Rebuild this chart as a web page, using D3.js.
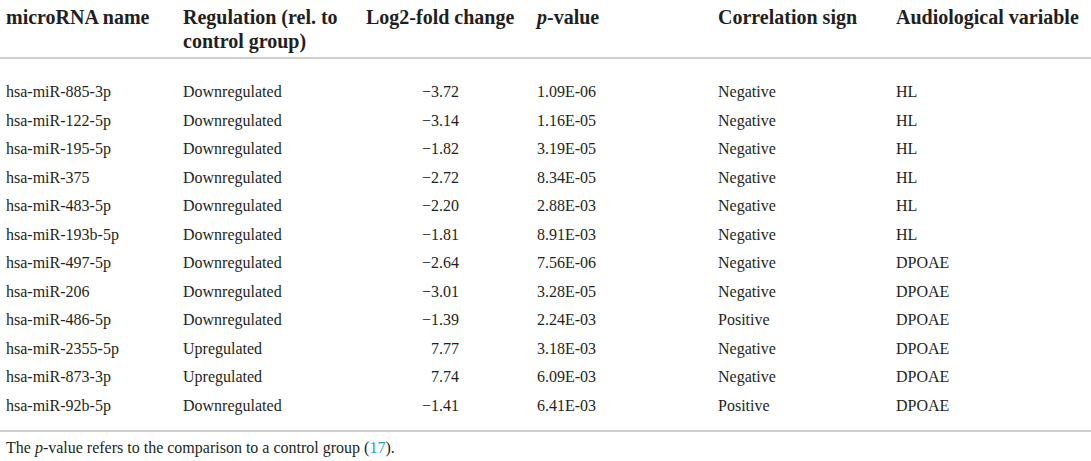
<!DOCTYPE html>
<html>
<head>
<meta charset="utf-8">
<script src="https://cdn.jsdelivr.net/npm/d3@7"></script>
<style>
  html, body { margin: 0; padding: 0; background: #fff; }
  svg { display: block; font-family: "Liberation Serif", "Times New Roman", serif; }
</style>
</head>
<body>
<div id="chart"></div>
<script>
const names = ["hsa-miR-885-3p","hsa-miR-122-5p","hsa-miR-195-5p","hsa-miR-375","hsa-miR-483-5p","hsa-miR-193b-5p","hsa-miR-497-5p","hsa-miR-206","hsa-miR-486-5p","hsa-miR-2355-5p","hsa-miR-873-3p","hsa-miR-92b-5p"];
const regulation = ["Downregulated","Downregulated","Downregulated","Downregulated","Downregulated","Downregulated","Downregulated","Downregulated","Downregulated","Upregulated","Upregulated","Downregulated"];
const log2fc = [-3.72,-3.14,-1.82,-2.72,-2.20,-1.81,-2.64,-3.01,-1.39,7.77,7.74,-1.41];
const pvalues = [1.09e-6,1.16e-5,3.19e-5,8.34e-5,2.88e-3,8.91e-3,7.56e-6,3.28e-5,2.24e-3,3.18e-3,6.09e-3,6.41e-3];
const correlation = ["Negative","Negative","Negative","Negative","Negative","Negative","Negative","Negative","Positive","Negative","Negative","Positive"];
const variable = ["HL","HL","HL","HL","HL","HL","DPOAE","DPOAE","DPOAE","DPOAE","DPOAE","DPOAE"];
const headers = ["microRNA name","Regulation (rel. to|control group)","Log2-fold change","p-value","Correlation sign","Audiological variable"];

const W = 1091, H = 461;
const svg = d3.select("#chart").append("svg").attr("width", W).attr("height", H);
const ink = "#231f20";

const colX = [6, 183, 366, 537, 718, 896];
const log2Right = 459;

const y = d3.scaleBand().domain(d3.range(names.length)).range([78, 420]).paddingInner(0);

// header
const hdr = svg.append("g").attr("font-weight", "bold").attr("font-size", 20).attr("fill", ink);
headers.forEach((h, i) => {
  const lines = h.split("|");
  lines.forEach((ln, j) => {
    const t = hdr.append("text").attr("x", colX[i]).attr("y", 24 + j * 24);
    if (ln === "p-value") {
      t.append("tspan").attr("font-style", "italic").text("p");
      t.append("tspan").text("-value");
    } else t.text(ln);
  });
});

// rules
svg.append("rect").attr("x", 0).attr("y", 57).attr("width", W).attr("height", 2).attr("fill", "#cfcfcf");
svg.append("rect").attr("x", 0).attr("y", 430).attr("width", W).attr("height", 2).attr("fill", "#cfcfcf");

const fmtFC = d3.format(".2f");
const fmtP = v => {
  const [m, e] = v.toExponential(2).split("e");
  const n = Math.abs(+e);
  return m + "E" + (+e < 0 ? "-" : "+") + (n < 10 ? "0" + n : n);
};

const rows = svg.append("g").attr("font-size", 16).attr("fill", ink)
  .selectAll("g").data(names.map((d, i) => i)).join("g")
  .attr("transform", i => `translate(0,${y(i) + y.bandwidth() / 2 + 5})`);

rows.append("text").attr("x", colX[0]).text(i => names[i]);
rows.append("text").attr("x", colX[1]).text(i => regulation[i]);
rows.append("text").attr("x", log2Right).attr("text-anchor", "end").text(i => fmtFC(log2fc[i]));
rows.append("text").attr("x", colX[3]).text(i => fmtP(pvalues[i]));
rows.append("text").attr("x", colX[4]).text(i => correlation[i]);
rows.append("text").attr("x", colX[5]).text(i => variable[i]);

// footnote
const fn = svg.append("text").attr("x", 6).attr("y", 453).attr("font-size", 16).attr("fill", ink);
fn.append("tspan").text("The ");
fn.append("tspan").attr("font-style", "italic").text("p");
fn.append("tspan").text("-value refers to the comparison to a control group (");
fn.append("tspan").attr("fill", "#1aa3c8").text("17");
fn.append("tspan").text(").");
</script>
</body>
</html>
